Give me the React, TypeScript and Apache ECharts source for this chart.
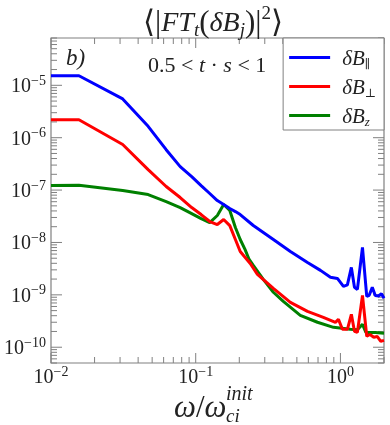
import React, { useEffect, useRef } from 'react';
import * as echarts from 'echarts';

// ---- data ----
const parFreq = [0.01, 0.0156, 0.0313, 0.0469, 0.0625, 0.0781, 0.0938, 0.109, 0.125, 0.141, 0.156, 0.172, 0.188, 0.203, 0.25, 0.344, 0.451, 0.592, 0.728, 0.853, 0.953, 1.049, 1.117, 1.19, 1.25, 1.31, 1.42, 1.52, 1.58, 1.66, 1.74, 1.83, 1.92, 2.0];
const parPower = [1.52e-5, 1.52e-5, 5.5e-6, 1.65e-6, 5.9e-7, 2.8e-7, 1.8e-7, 1.22e-7, 8.6e-8, 6.3e-8, 5.3e-8, 4.44e-8, 3.89e-8, 3.41e-8, 2.11e-8, 1.14e-8, 6.74e-9, 4.16e-9, 2.93e-9, 2.16e-9, 2.06e-9, 1.45e-9, 1.55e-9, 3.34e-9, 1.39e-9, 1.27e-9, 8.03e-9, 9.35e-10, 9.8e-10, 1.39e-9, 9.7e-10, 9.5e-10, 1.05e-9, 8.6e-10];

const perpFreq = [0.01, 0.0156, 0.0313, 0.0469, 0.0625, 0.0781, 0.0938, 0.109, 0.125, 0.141, 0.156, 0.172, 0.188, 0.203, 0.238, 0.267, 0.344, 0.451, 0.592, 0.762, 0.923, 0.969, 1.032, 1.117, 1.19, 1.25, 1.31, 1.42, 1.52, 1.6, 1.7, 1.8, 1.9, 2.0];
const perpPower = [2.2e-6, 2.2e-6, 7.4e-7, 2.46e-7, 1.17e-7, 7.2e-8, 4.64e-8, 3.41e-8, 2.51e-8, 2.2e-8, 2.74e-8, 2.1e-8, 1.14e-8, 6.74e-9, 3.98e-9, 2.45e-9, 1.33e-9, 7.2e-10, 4.85e-10, 3.73e-10, 2.99e-10, 3.41e-10, 2.2e-10, 2.2e-10, 4.26e-10, 2.02e-10, 1.93e-10, 9.77e-10, 1.62e-10, 1.75e-10, 1.55e-10, 1.6e-10, 1.3e-10, 1.35e-10];

const zFreq = [0.01, 0.0156, 0.0313, 0.0469, 0.0625, 0.0781, 0.0938, 0.109, 0.125, 0.141, 0.156, 0.172, 0.188, 0.203, 0.219, 0.234, 0.25, 0.293, 0.344, 0.403, 0.528, 0.694, 0.895, 1.17, 1.31, 1.42, 1.5, 1.74, 2.0];
const zPower = [1.22e-7, 1.24e-7, 9.8e-8, 8.2e-8, 6.0e-8, 4.64e-8, 3.56e-8, 2.86e-8, 2.4e-8, 3.27e-8, 5.3e-8, 4.07e-8, 1.93e-8, 1.14e-8, 7.4e-9, 4.74e-9, 3.65e-9, 1.97e-9, 1.12e-9, 7.5e-10, 4.07e-10, 3.0e-10, 2.4e-10, 2.2e-10, 2.15e-10, 2.74e-10, 1.92e-10, 1.92e-10, 1.85e-10];

const seriesNames = ['δB∥', 'δB⊥', 'δBz'];
const seriesColors = ['#0000ff', '#ff0000', '#008000'];

const X_MIN = 0.01;
const X_MAX = 2;
const Y_MIN = 5e-11;
const Y_MAX = 8e-5;
const xDecades = [-2, -1, 0];
const yDecades = [-11, -10, -9, -8, -7, -6, -5, -4];

const SERIF = '"Liberation Serif", "DejaVu Serif", serif';
const TXT = '#222';
const FRAME = '#808080';

function pow10Label(v: number): string {
  const e = Math.log10(v);
  const r = Math.round(e);
  if (Math.abs(e - r) > 1e-6) return '';
  return `{b|10}{s|${r < 0 ? '−' : ''}${Math.abs(r)}}`;
}

const labelRich = {
  b: { fontSize: 20, fontFamily: SERIF, lineHeight: 24, color: TXT },
  s: { fontSize: 14, fontFamily: SERIF, lineHeight: 12, verticalAlign: 'top', color: TXT },
};

function tickValues(decades: number[], lo: number, hi: number) {
  const major: number[] = [];
  const minor: number[] = [];
  decades.forEach((d) => {
    for (let k = 1; k <= 9; k++) {
      const v = k * Math.pow(10, d);
      if (v < lo * 0.999 || v > hi * 1.001) continue;
      if (k === 1) major.push(v);
      else minor.push(v);
    }
  });
  return { major, minor };
}

export default function App() {
  const ref = useRef<HTMLDivElement>(null);
  useEffect(() => {
    const chart = echarts.init(ref.current!, null, { renderer: 'svg' });
    const xt = tickValues(xDecades, X_MIN, X_MAX);
    const yt = tickValues(yDecades, Y_MIN, Y_MAX);

    const tickSeries: any = {
      type: 'custom',
      coordinateSystem: 'cartesian2d',
      silent: true,
      z: 1,
      data: [[1, 1e-7]],
      renderItem: (_params: any, api: any) => {
        const [left, bottom] = api.coord([X_MIN, Y_MIN]);
        const [right, top] = api.coord([X_MAX, Y_MAX]);
        const children: any[] = [];
        const ln = (x1: number, y1: number, x2: number, y2: number) => children.push({
          type: 'line',
          shape: { x1, y1, x2, y2 },
          style: { stroke: FRAME, lineWidth: 1 },
        });
        const xs = [...xt.major.map((v) => [v, 10]), ...xt.minor.map((v) => [v, 6])];
        xs.forEach(([v, len]) => {
          const px = api.coord([v, Y_MIN])[0];
          ln(px, bottom, px, bottom - len);
          ln(px, top, px, top + len);
        });
        const ys = [...yt.major.map((v) => [v, 11]), ...yt.minor.map((v) => [v, 6])];
        ys.forEach(([v, len]) => {
          const py = api.coord([X_MIN, v])[1];
          ln(left, py, left + len, py);
          ln(right, py, right - len, py);
        });
        return { type: 'group', children };
      },
    };

    const mk = (i: number, f: number[], p: number[]) => ({
      name: seriesNames[i],
      type: 'line',
      data: f.map((x, j) => [x, p[j]]),
      showSymbol: false,
      symbol: 'none',
      z: 3 + (2 - i),
      lineStyle: { width: 3, color: seriesColors[i] },
      itemStyle: { color: seriesColors[i] },
    });

    const legendMap: Record<string, string> = {
      'δB∥': '{d|δB}{s|∥}',
      'δB⊥': '{d|δB}{s|⊥}',
      'δBz': '{d|δB}{si|z}',
    };

    chart.setOption({
      animation: false,
      grid: { left: 51, right: 6, top: 38, bottom: 62, show: true, borderColor: FRAME, borderWidth: 1.2, backgroundColor: 'transparent' },
      xAxis: {
        type: 'log', logBase: 10, min: X_MIN, max: X_MAX,
        axisLine: { show: false }, axisTick: { show: false }, splitLine: { show: false },
        axisLabel: { margin: 1, formatter: pow10Label, rich: labelRich, showMaxLabel: false },
      },
      yAxis: {
        type: 'log', logBase: 10, min: Y_MIN, max: Y_MAX,
        axisLine: { show: false }, axisTick: { show: false }, splitLine: { show: false },
        axisLabel: { margin: 5, formatter: pow10Label, rich: labelRich, showMaxLabel: false, showMinLabel: false },
      },
      legend: {
        data: seriesNames,
        orient: 'vertical',
        right: 6,
        top: 38,
        icon: 'rect',
        itemWidth: 41,
        itemHeight: 3,
        itemGap: 6.5,
        padding: [9, 8, 2.5, 6],
        backgroundColor: '#ffffff',
        borderColor: FRAME,
        borderWidth: 1,
        borderRadius: 0,
        z: 10,
        formatter: (n: string) => legendMap[n] || n,
        textStyle: {
          color: TXT,
          padding: [0, 0, 0, 7],
          rich: {
            d: { fontSize: 21, fontFamily: SERIF, fontStyle: 'italic', lineHeight: 24, color: TXT },
            s: { fontSize: 12, fontFamily: SERIF, lineHeight: 12, verticalAlign: 'bottom', color: TXT },
            si: { fontSize: 13, fontFamily: SERIF, fontStyle: 'italic', lineHeight: 12, verticalAlign: 'bottom', color: TXT },
          },
        },
      },
      graphic: [
        {
          type: 'text', x: 213, y: 21, z: 20,
          style: {
            text: '{a|⟨|}{i|FT}{sub|t}{a|(}{i|δB}{sub|j}{a|)|}{sup|2}{a|⟩}',
            align: 'center', textAlign: 'center', verticalAlign: 'middle', textVerticalAlign: 'middle',
            fill: TXT,
            rich: {
              a: { fontSize: 31, fontFamily: SERIF, lineHeight: 36, fill: TXT, color: TXT },
              i: { fontSize: 28, fontFamily: SERIF, fontStyle: 'italic', lineHeight: 36, fill: TXT, color: TXT },
              sub: { fontSize: 19, fontFamily: SERIF, fontStyle: 'italic', lineHeight: 16, verticalAlign: 'bottom', fill: TXT, color: TXT },
              sup: { fontSize: 19, fontFamily: SERIF, lineHeight: 16, verticalAlign: 'top', fill: TXT, color: TXT },
            },
          },
        },
        {
          type: 'text', x: 66, y: 57, z: 20,
          style: { text: 'b)', font: `italic 23px ${SERIF}`, fill: TXT, align: 'left', textAlign: 'left', verticalAlign: 'middle', textVerticalAlign: 'middle' },
        },
        {
          type: 'text', x: 148, y: 64, z: 20,
          style: {
            text: '{n|0.5 < }{i|t}{n| · }{i|s}{n| < 1}',
            align: 'left', textAlign: 'left', verticalAlign: 'middle', textVerticalAlign: 'middle', fill: TXT,
            rich: {
              n: { fontSize: 22, fontFamily: SERIF, fill: TXT, color: TXT, lineHeight: 24 },
              i: { fontSize: 22, fontFamily: SERIF, fontStyle: 'italic', fill: TXT, color: TXT, lineHeight: 24 },
            },
          },
        },
        {
          type: 'text', x: 174, y: 406, z: 20,
          style: {
            text: '{i|ω}{n|/}{i|ω}',
            align: 'left', textAlign: 'left', verticalAlign: 'middle', textVerticalAlign: 'middle', fill: TXT,
            rich: {
              i: { fontSize: 31, fontFamily: SERIF, fontStyle: 'italic', fill: TXT, color: TXT },
              n: { fontSize: 31, fontFamily: SERIF, fill: TXT, color: TXT },
            },
          },
        },
        {
          type: 'text', x: 226, y: 393, z: 20,
          style: { text: 'init', font: `italic 20px ${SERIF}`, fill: TXT, align: 'left', textAlign: 'left', verticalAlign: 'middle', textVerticalAlign: 'middle' },
        },
        {
          type: 'text', x: 226, y: 415, z: 20,
          style: { text: 'ci', font: `italic 19px ${SERIF}`, fill: TXT, align: 'left', textAlign: 'left', verticalAlign: 'middle', textVerticalAlign: 'middle' },
        },
      ],
      series: [
        tickSeries,
        mk(0, parFreq, parPower),
        mk(1, perpFreq, perpPower),
        mk(2, zFreq, zPower),
      ],
    });
    return () => chart.dispose();
  }, []);
  return <div ref={ref} style={{ position: 'fixed', left: 0, top: 0, width: 390, height: 425 }} />;
}
